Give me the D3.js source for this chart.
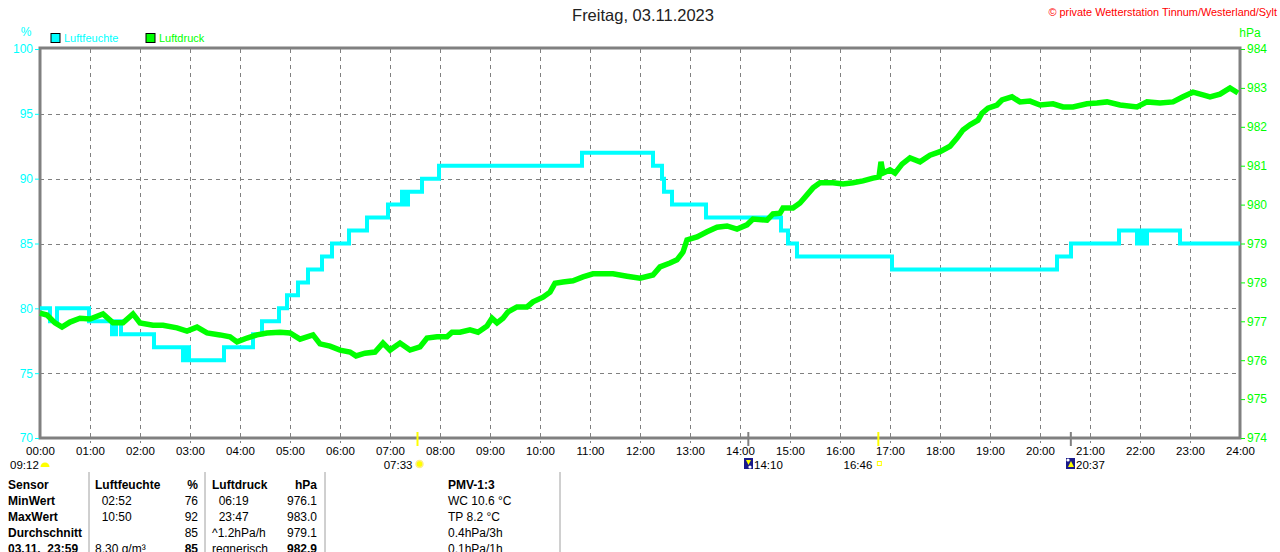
<!DOCTYPE html>
<html><head><meta charset="utf-8">
<script src="https://cdn.jsdelivr.net/npm/d3@7/dist/d3.min.js"></script>
<style>
body{margin:0;background:#fff;}
svg{display:block;font-family:"Liberation Sans",Arial,sans-serif;}
</style></head><body>
<svg id="c" width="1280" height="552"></svg>
<script>
// ---------- data ----------
const title = "Freitag, 03.11.2023";
const copyright = "© private Wetterstation Tinnum/Westerland/Sylt";
const hourTicks = d3.range(0, 25);
const humTicks = [70, 75, 80, 85, 90, 95, 100];
const presTicks = [974, 975, 976, 977, 978, 979, 980, 981, 982, 983, 984];

// Luftfeuchte (%), step series: [hour, value]
const humTimes = [0.00,0.20,0.34,0.98,1.44,1.52,1.62,2.28,2.86,2.92,2.98,3.68,4.26,4.44,4.78,4.94,5.16,5.36,5.64,5.84,6.18,6.54,6.96,7.24,7.30,7.36,7.64,7.98,10.84,12.26,12.44,12.48,12.64,13.32,14.82,14.96,15.14,17.04,20.34,20.62,21.58,21.94,22.00,22.06,22.14,22.80,24.00];
const humValues = [80,79,80,79,78,79,78,77,76,77,76,77,78,79,80,81,82,83,84,85,86,87,88,89,88,89,90,91,92,91,90,89,88,87,86,85,84,83,84,85,86,85,86,85,86,85,85];

// Luftdruck (hPa): [hour, value]
const presTimes = [0.00,0.14,0.30,0.44,0.60,0.80,1.00,1.26,1.46,1.66,1.86,2.00,2.26,2.46,2.74,2.94,3.14,3.34,3.60,3.80,3.94,4.14,4.34,4.54,4.80,5.00,5.20,5.46,5.60,5.80,6.00,6.20,6.32,6.50,6.70,6.86,7.00,7.20,7.40,7.60,7.74,7.94,8.14,8.24,8.40,8.60,8.76,8.94,9.04,9.14,9.26,9.36,9.54,9.74,9.86,10.06,10.20,10.30,10.46,10.66,10.86,11.06,11.46,11.74,12.00,12.26,12.40,12.60,12.74,12.86,12.94,13.14,13.34,13.54,13.74,13.94,14.14,14.26,14.54,14.66,14.80,14.86,15.06,15.20,15.34,15.46,15.60,15.86,16.06,16.26,16.46,16.66,16.78,16.82,16.86,17.00,17.10,17.24,17.40,17.60,17.80,18.00,18.20,18.34,18.46,18.60,18.76,18.84,18.96,19.14,19.24,19.44,19.60,19.80,20.00,20.26,20.46,20.66,20.94,21.14,21.34,21.60,21.94,22.14,22.40,22.66,22.86,23.06,23.26,23.40,23.60,23.80,23.96];
const presValues = [977.21,977.16,976.96,976.85,976.98,977.08,977.06,977.19,976.96,976.96,977.19,976.96,976.90,976.90,976.83,976.75,976.85,976.70,976.65,976.60,976.47,976.57,976.65,976.70,976.72,976.70,976.54,976.65,976.42,976.36,976.26,976.21,976.11,976.18,976.21,976.44,976.26,976.44,976.26,976.34,976.57,976.60,976.60,976.72,976.72,976.78,976.72,976.88,977.08,976.96,977.08,977.24,977.37,977.37,977.50,977.62,977.75,977.98,978.01,978.04,978.14,978.22,978.22,978.16,978.11,978.19,978.40,978.50,978.58,978.78,979.09,979.17,979.30,979.42,979.45,979.37,979.48,979.63,979.60,979.76,979.78,979.91,979.91,980.04,980.25,980.43,980.56,980.56,980.53,980.56,980.61,980.68,980.71,981.10,980.81,980.89,980.81,981.04,981.20,981.10,981.27,981.36,981.50,981.71,981.92,982.05,982.17,982.35,982.48,982.56,982.69,982.77,982.64,982.66,982.56,982.59,982.51,982.51,982.59,982.61,982.64,982.56,982.51,982.64,982.61,982.64,982.77,982.89,982.82,982.77,982.84,983.00,982.87];

// sun / moon events (hour)
const sunrise = 7 + 33/60, sunset = 16 + 46/60, moonset = 14 + 10/60, moonrise = 20 + 37/60;

// table
const tableRows = [
  ["Sensor","Luftfeuchte","%","Luftdruck","hPa","PMV-1:3"],
  ["MinWert","  02:52","76","  06:19","976.1","WC 10.6 °C"],
  ["MaxWert","  10:50","92","  23:47","983.0","TP 8.2 °C"],
  ["Durchschnitt","","85","^1.2hPa/h","979.1","0.4hPa/3h"],
  ["03.11.  23:59","8.30 g/m³","85","regnerisch","982.9","0.1hPa/1h"]
];

// ---------- drawing ----------
const svg = d3.select("#c");
const L = 40, R = 1240, T = 49, B = 438;
const x = d3.scaleLinear().domain([0, 24]).range([L, R]);
const yH = d3.scaleLinear().domain([70, 100]).range([B, T]);
const yP = d3.scaleLinear().domain([974, 984]).range([B, T]);
const gray = "#808080", cyan = "#00ffff", green = "#00ff00";

// title / copyright
svg.append("text").attr("x", 643).attr("y", 21).attr("text-anchor", "middle")
  .attr("font-size", 16.5).attr("fill", "#222").text(title);
svg.append("text").attr("x", 1277).attr("y", 16).attr("text-anchor", "end")
  .attr("font-size", 10.9).attr("fill", "#ff0000").text(copyright);

// units
svg.append("text").attr("x", 26).attr("y", 36).attr("text-anchor", "middle").attr("font-size", 12).attr("fill", cyan).text("%");
svg.append("text").attr("x", 1250).attr("y", 37).attr("text-anchor", "middle").attr("font-size", 12).attr("fill", green).text("hPa");

// legend
[[cyan, "Luftfeuchte", 51], [green, "Luftdruck", 146]].forEach(([c, t, lx]) => {
  svg.append("rect").attr("x", lx).attr("y", 33.5).attr("width", 9).attr("height", 9).attr("fill", c).attr("stroke", "#000").attr("stroke-width", 1);
  svg.append("text").attr("x", lx + 13).attr("y", 42).attr("font-size", 11).attr("fill", c).text(t);
});

// grid
const grid = svg.append("g").attr("stroke", gray).attr("stroke-width", 1).attr("stroke-dasharray", "4,4");
grid.selectAll("line.v").data(hourTicks.slice(1, 24)).join("line")
  .attr("x1", d => Math.round(x(d)) + 0.5).attr("x2", d => Math.round(x(d)) + 0.5).attr("y1", T).attr("y2", B + 5);
grid.selectAll("line.h").data([75, 80, 85, 90, 95]).join("line")
  .attr("x1", L).attr("x2", R).attr("y1", d => Math.round(yH(d)) + 0.5).attr("y2", d => Math.round(yH(d)) + 0.5);

// frame
svg.append("rect").attr("x", L).attr("y", T - 1).attr("width", R - L).attr("height", B - T + 1)
  .attr("fill", "none").attr("stroke", gray).attr("stroke-width", 3);

// axes
const axL = svg.append("g").attr("transform", `translate(${L - 1},0)`)
  .call(d3.axisLeft(yH).tickValues(humTicks).tickSize(4).tickPadding(2));
axL.select(".domain").remove();
axL.selectAll("line").attr("stroke", cyan);
axL.selectAll("text").attr("fill", cyan).attr("font-size", 12).attr("font-family", "Liberation Sans, Arial");

const axR = svg.append("g").attr("transform", `translate(${R + 1},0)`)
  .call(d3.axisRight(yP).tickValues(presTicks).tickSize(4).tickPadding(2));
axR.select(".domain").remove();
axR.selectAll("line").attr("stroke", green);
axR.selectAll("text").attr("fill", green).attr("font-size", 12).attr("font-family", "Liberation Sans, Arial");

const axB = svg.append("g").attr("transform", `translate(0,${B + 7})`)
  .call(d3.axisBottom(x).tickValues(hourTicks).tickSize(0).tickPadding(2)
    .tickFormat(d => String(d).padStart(2, "0") + ":00"));
axB.select(".domain").remove();
axB.selectAll("text").attr("fill", "#000").attr("font-size", 11.5).attr("font-family", "Liberation Sans, Arial");

// event ticks
svg.append("g").selectAll("line").data([[sunrise, "#ffff00"], [sunset, "#ffff00"], [moonset, gray], [moonrise, gray]]).join("line")
  .attr("x1", d => x(d[0])).attr("x2", d => x(d[0])).attr("y1", B - 6).attr("y2", B + 8)
  .attr("stroke", d => d[1]).attr("stroke-width", 2);

// lines
const humData = humTimes.map((t, i) => [t, humValues[i]]);
const presData = presTimes.map((t, i) => [t, presValues[i]]);
svg.append("path").datum(humData)
  .attr("d", d3.line().x(d => x(d[0])).y(d => yH(d[1])).curve(d3.curveStepAfter))
  .attr("fill", "none").attr("stroke", cyan).attr("stroke-width", 4);
svg.append("path").datum(presData)
  .attr("d", d3.line().x(d => x(d[0])).y(d => yP(d[1])))
  .attr("fill", "none").attr("stroke", green).attr("stroke-width", 5.5).attr("stroke-linejoin", "miter");

// event labels
const ev = svg.append("g").attr("font-size", 11.5).attr("fill", "#000");
ev.append("text").attr("x", 10).attr("y", 469).text("09:12");
ev.append("path").attr("d", d3.arc()({innerRadius: 0, outerRadius: 4.5, startAngle: -Math.PI/2, endAngle: Math.PI/2}))
  .attr("transform", "translate(45,467)").attr("fill", "#ffff00");
ev.append("text").attr("x", x(sunrise) - 5).attr("y", 469).attr("text-anchor", "end").text("07:33");
ev.append("circle").attr("cx", x(sunrise) + 2).attr("cy", 464).attr("r", 3.5).attr("fill", "#ffff00").attr("stroke", "#ffee88").attr("stroke-width", 1.5);
ev.append("text").attr("x", x(sunset) - 6).attr("y", 469).attr("text-anchor", "end").text("16:46");
ev.append("rect").attr("x", x(sunset) - 1).attr("y", 461.5).attr("width", 4).attr("height", 4).attr("fill", "none").attr("stroke", "#ffff00");
[[moonset, 744, 1], [moonrise, 1066, -1]].forEach(([t, mx, dir]) => {
  ev.append("rect").attr("x", mx).attr("y", 458).attr("width", 9).attr("height", 11).attr("fill", "#1a1a8a");
  ev.append("path").attr("d", dir > 0 ? `M${mx+2},460 L${mx+7},460 L${mx+4.5},465 Z` : `M${mx+5},461 L${mx+8},467 L${mx+2},467 Z`).attr("fill", "#ffff00");
  ev.append("circle").attr("cx", dir > 0 ? mx + 6 : mx + 2).attr("cy", dir > 0 ? 467 : 460).attr("r", 1.6).attr("fill", "#fff");
  ev.append("text").attr("x", mx + 10).attr("y", 469).text(t === moonset ? "14:10" : "20:37");
});

// table
const tg = svg.append("g").attr("font-size", 12).attr("fill", "#000");
[89, 205, 325, 560].forEach(sx => tg.append("line").attr("x1", sx).attr("x2", sx).attr("y1", 472).attr("y2", 552).attr("stroke", "#a0a0a0").attr("stroke-width", 1));
const colX = [8, 95, 198, 212, 317, 448];
const colAnchor = ["start", "start", "end", "start", "end", "start"];
tableRows.forEach((row, ri) => {
  row.forEach((cell, ci) => {
    const bold = ri === 0 || ci === 0 || (ri === 4 && (ci === 2 || ci === 4));
    tg.append("text").attr("x", colX[ci]).attr("y", 489 + ri * 16).attr("text-anchor", colAnchor[ci])
      .attr("font-weight", bold ? "bold" : "normal").attr("xml:space", "preserve").style("white-space", "pre").text(cell);
  });
});
</script>
</body></html>
